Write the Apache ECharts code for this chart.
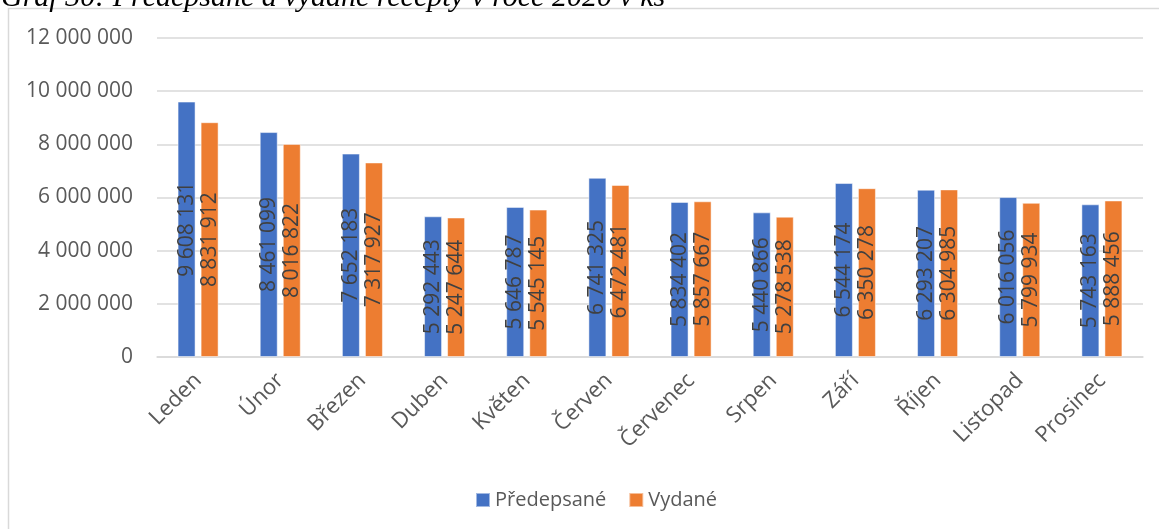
<!DOCTYPE html>
<html>
<head>
<meta charset="utf-8">
<script src="https://cdn.jsdelivr.net/npm/echarts@6/dist/echarts.min.js"></script>
<style>
  html, body { margin: 0; padding: 0; background: #fff; }
  #chart { width: 1159px; height: 529px; }
</style>
</head>
<body>
<div id="chart"></div>
<script>
// Předepsané a vydané recepty v roce 2020 (ks)
const months = ['Leden', 'Únor', 'Březen', 'Duben', 'Květen', 'Červen',
                'Červenec', 'Srpen', 'Září', 'Říjen', 'Listopad', 'Prosinec'];
const predepsane = [9608131, 8461099, 7652183, 5292443, 5646787, 6741325,
                    5834402, 5440866, 6544174, 6293207, 6016056, 5743163];
const vydane = [8831912, 8016822, 7317927, 5247644, 5545145, 6472481,
                5857667, 5278538, 6350278, 6304985, 5799934, 5888456];
const seriesNames = ['Předepsané', 'Vydané'];
const yTicks = { min: 0, max: 12000000, interval: 2000000 };

const FONT = '"Open Sans", "DejaVu Sans", sans-serif';
const fmt = v => String(v).replace(/\B(?=(\d{3})+(?!\d))/g, ' ');

const chart = echarts.init(document.getElementById('chart'), null, { renderer: 'canvas' });

const labelCfg = {
  show: true,
  position: 'inside',
  rotate: 90,
  color: '#404040',
  fontFamily: FONT,
  fontSize: 21,
  formatter: p => fmt(p.value)
};

chart.setOption({
  animation: false,
  backgroundColor: '#fff',
  textStyle: { fontFamily: FONT },
  graphic: [
    {
      type: 'rect',
      shape: { x: 8.5, y: 8.5, width: 1200, height: 600 },
      style: { fill: 'none', stroke: '#d9d9d9', lineWidth: 1.5 },
      silent: true, z: -10
    },
    {
      type: 'text',
      x: 1, y: 13,
      style: {
        text: 'Graf 30: Předepsané a vydané recepty v roce 2020 v ks',
        font: 'italic 30px "Liberation Serif", "DejaVu Serif", serif',
        fill: '#000',
        verticalAlign: 'bottom'
      },
      silent: true
    }
  ],
  grid: { left: 157, right: 16, top: 38, bottom: 172, containLabel: false },
  legend: {
    data: seriesNames,
    left: 470,
    top: 485,
    itemWidth: 14,
    itemHeight: 14,
    itemGap: 22,
    icon: 'rect',
    textStyle: { color: '#595959', fontSize: 20, fontFamily: FONT }
  },
  xAxis: {
    type: 'category',
    data: months,
    axisLine: { show: true, lineStyle: { color: '#d9d9d9', width: 1.5 } },
    axisTick: { show: false },
    axisLabel: {
      rotate: 45,
      color: '#595959',
      fontSize: 22,
      fontFamily: FONT,
      margin: 20,
      interval: 0
    }
  },
  yAxis: {
    type: 'value',
    min: yTicks.min,
    max: yTicks.max,
    interval: yTicks.interval,
    axisLine: { show: false },
    axisTick: { show: false },
    splitLine: { lineStyle: { color: '#d9d9d9', width: 1.5 } },
    axisLabel: {
      color: '#595959',
      fontSize: 21,
      fontFamily: FONT,
      margin: 24,
      formatter: v => fmt(v)
    }
  },
  series: [
    {
      name: seriesNames[0],
      type: 'bar',
      data: predepsane,
      barWidth: 18,
      barGap: '28%',
      itemStyle: { color: '#4472C4', borderColor: 'rgba(255,255,255,0.5)', borderWidth: 1 },
      label: labelCfg
    },
    {
      name: seriesNames[1],
      type: 'bar',
      data: vydane,
      barWidth: 18,
      itemStyle: { color: '#ED7D31', borderColor: 'rgba(255,255,255,0.5)', borderWidth: 1 },
      label: labelCfg
    }
  ]
});
</script>
</body>
</html>
